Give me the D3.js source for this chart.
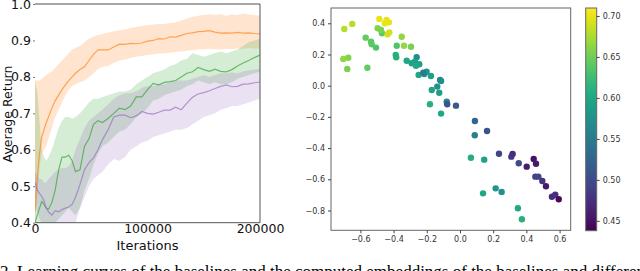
<!DOCTYPE html>
<html>
<head>
<meta charset="utf-8">
<script src="https://cdn.jsdelivr.net/npm/d3@7"></script>
<style>
  body { margin: 0; background: #fff; }
  svg { display: block; }
</style>
</head>
<body>
<div id="chart"></div>
<script>
// learning curves (left panel)
const iterations = [0, 2000, 4000, 6000, 8000, 10000, 12000, 15000, 18000, 21000, 24000, 27000, 30000, 33000, 36000,
  40000, 44000, 48000, 52000, 56000, 60000, 65000, 70000, 75000, 80000, 85000, 90000, 95000, 100000,
  105000, 110000, 115000, 120000, 125000, 130000, 135000, 140000, 145000, 150000, 155000, 160000,
  165000, 170000, 175000, 180000, 185000, 190000, 195000, 200000]

const orangeMean = [0.43, 0.52, 0.59, 0.635, 0.655, 0.675, 0.69, 0.715, 0.735, 0.75, 0.765, 0.778, 0.79, 0.80, 0.81,
  0.82, 0.828, 0.845, 0.862, 0.874, 0.874, 0.874, 0.882, 0.89, 0.889, 0.892, 0.891, 0.893, 0.898,
  0.90, 0.905, 0.904, 0.91, 0.909, 0.914, 0.919, 0.921, 0.924, 0.925, 0.927, 0.923,
  0.92, 0.921, 0.92, 0.922, 0.92, 0.921, 0.919, 0.918]
const orangeLo = [0.40, 0.47, 0.55, 0.59, 0.60, 0.61, 0.63, 0.66, 0.69, 0.71, 0.73, 0.75, 0.765, 0.775, 0.78,
  0.785, 0.79, 0.80, 0.81, 0.822, 0.828, 0.83, 0.838, 0.845, 0.848, 0.852, 0.855, 0.857, 0.86,
  0.862, 0.864, 0.865, 0.866, 0.868, 0.87, 0.872, 0.873, 0.875, 0.876, 0.877, 0.876,
  0.875, 0.877, 0.876, 0.878, 0.877, 0.879, 0.878, 0.878]
const orangeHi = [0.79, 0.79, 0.79, 0.795, 0.80, 0.805, 0.81, 0.815, 0.825, 0.835, 0.845, 0.855, 0.865, 0.875, 0.88,
  0.885, 0.895, 0.905, 0.91, 0.915, 0.918, 0.922, 0.925, 0.928, 0.93, 0.935, 0.937, 0.94, 0.942,
  0.944, 0.945, 0.945, 0.948, 0.95, 0.955, 0.96, 0.965, 0.968, 0.97, 0.972, 0.97,
  0.972, 0.968, 0.972, 0.97, 0.974, 0.972, 0.97, 0.968]

const greenMean = [0.40, 0.42, 0.44, 0.458, 0.45, 0.44, 0.437, 0.455, 0.49, 0.545, 0.58, 0.58, 0.585, 0.57, 0.54,
  0.545, 0.61, 0.63, 0.67, 0.68, 0.675, 0.686, 0.70, 0.714, 0.71, 0.72, 0.745, 0.745, 0.765,
  0.782, 0.778, 0.785, 0.787, 0.79, 0.80, 0.81, 0.814, 0.826, 0.82, 0.815, 0.821,
  0.815, 0.814, 0.82, 0.83, 0.838, 0.845, 0.853, 0.86]
const greenLo = [0.40, 0.40, 0.40, 0.40, 0.40, 0.40, 0.40, 0.40, 0.40, 0.41, 0.42, 0.43, 0.44, 0.43, 0.42,
  0.44, 0.49, 0.52, 0.56, 0.59, 0.61, 0.62, 0.635, 0.65, 0.655, 0.67, 0.69, 0.70, 0.715,
  0.735, 0.74, 0.75, 0.755, 0.76, 0.765, 0.775, 0.78, 0.79, 0.785, 0.78, 0.785,
  0.78, 0.78, 0.785, 0.795, 0.80, 0.805, 0.81, 0.815]
const greenHi = [0.785, 0.76, 0.68, 0.60, 0.58, 0.57, 0.58, 0.60, 0.63, 0.66, 0.68, 0.69, 0.69, 0.685, 0.69,
  0.70, 0.715, 0.73, 0.74, 0.74, 0.745, 0.75, 0.755, 0.76, 0.76, 0.765, 0.78, 0.79, 0.80,
  0.81, 0.815, 0.82, 0.83, 0.835, 0.845, 0.85, 0.865, 0.86, 0.855, 0.86, 0.865,
  0.87, 0.865, 0.87, 0.875, 0.885, 0.895, 0.90, 0.905]

const purpleMean = [0.512, 0.49, 0.48, 0.472, 0.46, 0.44, 0.43, 0.421, 0.433, 0.43, 0.436, 0.44, 0.443, 0.45, 0.47,
  0.505, 0.545, 0.565, 0.578, 0.60, 0.628, 0.655, 0.69, 0.695, 0.695, 0.688, 0.693, 0.705, 0.70,
  0.698, 0.703, 0.709, 0.709, 0.717, 0.71, 0.728, 0.744, 0.753, 0.757, 0.762, 0.768,
  0.774, 0.778, 0.773, 0.774, 0.78, 0.781, 0.784, 0.786]
const purpleLo = [0.45, 0.43, 0.41, 0.40, 0.40, 0.40, 0.40, 0.40, 0.40, 0.40, 0.40, 0.40, 0.40, 0.40, 0.40,
  0.44, 0.47, 0.50, 0.52, 0.53, 0.54, 0.56, 0.575, 0.57, 0.58, 0.60, 0.61, 0.62, 0.625,
  0.635, 0.64, 0.645, 0.65, 0.655, 0.655, 0.66, 0.67, 0.68, 0.69, 0.695, 0.70,
  0.71, 0.715, 0.72, 0.72, 0.725, 0.73, 0.735, 0.74]
const purpleHi = [0.54, 0.53, 0.52, 0.52, 0.51, 0.51, 0.52, 0.53, 0.54, 0.545, 0.55, 0.55, 0.555, 0.57, 0.60,
  0.63, 0.66, 0.68, 0.69, 0.70, 0.71, 0.725, 0.74, 0.75, 0.755, 0.755, 0.76, 0.77, 0.775,
  0.775, 0.78, 0.78, 0.785, 0.79, 0.79, 0.79, 0.795, 0.80, 0.805, 0.80, 0.805,
  0.81, 0.81, 0.812, 0.81, 0.815, 0.818, 0.82, 0.822]

const returnTicks = [0.4, 0.5, 0.6, 0.7, 0.8, 0.9, 1.0]
const iterTicks = [0, 100000, 200000]

// embedding scatter (right panel)
const embedX = [-0.486, -0.442, -0.428, -0.452, -0.649, -0.697, -0.496, -0.470, -0.426, -0.436, -0.568, -0.351,
  -0.536, -0.532, -0.506, -0.381, -0.337, -0.295, -0.703, -0.673, -0.679, -0.558, -0.387, -0.384,
  -0.321, -0.291, -0.261, -0.271, -0.245, -0.265, -0.201, -0.215, -0.249, -0.175, -0.221, -0.120,
  -0.114, -0.137, -0.170, -0.125, -0.080, -0.077, -0.024, -0.181, -0.114, 0.090, 0.163, 0.089,
  0.066, 0.146, 0.235, 0.317, 0.309, 0.354, 0.402, 0.444, 0.458, 0.454, 0.472, 0.496, 0.518,
  0.554, 0.574, 0.595, 0.215, 0.251, 0.139, 0.349, 0.373, -0.476]
const embedY = [0.428, 0.421, 0.406, 0.400, 0.396, 0.363, 0.368, 0.336, 0.342, 0.329, 0.308, 0.314,
  0.282, 0.265, 0.244, 0.256, 0.256, 0.250, 0.171, 0.179, 0.107, 0.115, 0.197, 0.182,
  0.160, 0.144, 0.182, 0.154, 0.137, 0.128, 0.090, 0.075, 0.069, 0.062, 0.083, 0.037,
  0.030, -0.006, -0.028, -0.045, -0.103, -0.119, -0.128, -0.119, -0.179, -0.226, -0.290, -0.318,
  -0.462, -0.474, -0.436, -0.438, -0.455, -0.497, -0.519, -0.470, -0.500, -0.583, -0.583, -0.611, -0.645,
  -0.712, -0.699, -0.728, -0.658, -0.681, -0.690, -0.786, -0.856, 0.357]
const embedC = [0.70, 0.70, 0.70, 0.70, 0.68, 0.68, 0.66, 0.64, 0.69, 0.69, 0.645, 0.665,
  0.64, 0.64, 0.635, 0.635, 0.665, 0.655, 0.665, 0.66, 0.655, 0.645, 0.61, 0.61,
  0.60, 0.595, 0.57, 0.59, 0.59, 0.60, 0.58, 0.585, 0.60, 0.59, 0.55, 0.565,
  0.57, 0.575, 0.595, 0.59, 0.56, 0.51, 0.515, 0.61, 0.60, 0.525, 0.51, 0.555,
  0.605, 0.595, 0.495, 0.47, 0.48, 0.50, 0.46, 0.45, 0.455, 0.49, 0.495, 0.48, 0.455,
  0.47, 0.475, 0.445, 0.58, 0.575, 0.60, 0.60, 0.61, 0.655]

const embedXTicks = [-0.6, -0.4, -0.2, 0.0, 0.2, 0.4, 0.6]
const embedYTicks = [-0.8, -0.6, -0.4, -0.2, 0.0, 0.2, 0.4]
const colorTicks = [0.45, 0.50, 0.55, 0.60, 0.65, 0.70]

const caption = '2.  Learning curves of the baselines and the computed embeddings of the baselines and different informed'

const W = 640, H = 271
const svg = d3.select('#chart').append('svg')
  .attr('width', W).attr('height', H)
  .style('font-family', '"DejaVu Sans", sans-serif')

svg.append('rect').attr('width', W).attr('height', H).attr('fill', '#fff')

// ---------- left panel ----------
const x = d3.scaleLinear().domain([0, 200000]).range([35, 260])
const y = d3.scaleLinear().domain([0.4, 1.0]).range([222.7, 4])

svg.append('clipPath').attr('id', 'clip-left')
  .append('rect')
  .attr('x', x(0)).attr('y', y(1.0))
  .attr('width', x(200000) - x(0)).attr('height', y(0.4) - y(1.0))

const series = [
  { mean: orangeMean, lo: orangeLo, hi: orangeHi, color: '#ff7f0e' },
  { mean: greenMean, lo: greenLo, hi: greenHi, color: '#2ca02c' },
  { mean: purpleMean, lo: purpleLo, hi: purpleHi, color: '#9467bd' }
]

const plotG = svg.append('g').attr('clip-path', 'url(#clip-left)')

const area = d3.area()
  .x((d, i) => x(iterations[i]))
  .y0(d => y(d[0]))
  .y1(d => y(d[1]))

const line = d3.line()
  .x((d, i) => x(iterations[i]))
  .y(d => y(d))

series.forEach(s => {
  plotG.append('path')
    .datum(s.lo.map((v, i) => [v, s.hi[i]]))
    .attr('d', area)
    .attr('fill', s.color)
    .attr('fill-opacity', 0.2)
})
series.forEach(s => {
  plotG.append('path')
    .datum(s.mean)
    .attr('d', line)
    .attr('fill', 'none')
    .attr('stroke', s.color)
    .attr('stroke-opacity', 0.65)
    .attr('stroke-width', 1.2)
})

// spines (top, right, bottom)
svg.append('line').attr('x1', x(0)).attr('x2', x(200000)).attr('y1', y(1.0)).attr('y2', y(1.0))
  .attr('stroke', '#8a8a8a').attr('stroke-width', 1.4)
svg.append('line').attr('x1', x(200000)).attr('x2', x(200000)).attr('y1', y(1.0)).attr('y2', y(0.4))
  .attr('stroke', '#555').attr('stroke-width', 1)
svg.append('line').attr('x1', x(0)).attr('x2', x(200000)).attr('y1', y(0.4)).attr('y2', y(0.4))
  .attr('stroke', '#555').attr('stroke-width', 1)

const yAxisL = svg.append('g')
  .attr('transform', `translate(${x(0)},0)`)
  .call(d3.axisLeft(y).tickValues(returnTicks).tickFormat(d3.format('.1f')).tickSize(2).tickPadding(2))
yAxisL.select('.domain').remove()
yAxisL.selectAll('.tick line').attr('stroke', '#777')
yAxisL.selectAll('text').attr('font-size', 12.5).attr('fill', '#111')
  .attr('font-family', '"DejaVu Sans", sans-serif')

const xAxisL = svg.append('g')
  .attr('transform', `translate(0,${y(0.4)})`)
  .call(d3.axisBottom(x).tickValues(iterTicks).tickFormat(d3.format('d')).tickSize(0).tickPadding(1))
xAxisL.select('.domain').remove()
xAxisL.selectAll('text').attr('font-size', 12.5).attr('fill', '#111')
  .attr('font-family', '"DejaVu Sans", sans-serif')

svg.append('text')
  .attr('x', x(100000)).attr('y', 249.5)
  .attr('text-anchor', 'middle')
  .attr('font-size', 13).attr('fill', '#111')
  .text('Iterations')

svg.append('text')
  .attr('transform', `translate(11.5,${114}) rotate(-90)`)
  .attr('text-anchor', 'middle')
  .attr('font-size', 12.5).attr('fill', '#111')
  .text('Average Return')

// ---------- right panel ----------
const ex = d3.scaleLinear().domain([-0.777, 0.667]).range([331, 570.7])
const ey = d3.scaleLinear().domain([-0.927, 0.498]).range([230.3, 8])
const color = d3.scaleSequential(d3.interpolateViridis).domain([0.438, 0.71])
const fmtMinus = d => d3.format('.1f')(d).replace('-', '\u2212')

svg.append('g')
  .selectAll('circle')
  .data(embedX.map((v, i) => ({ x: v, y: embedY[i], c: embedC[i] })))
  .join('circle')
  .attr('cx', d => ex(d.x))
  .attr('cy', d => ey(d.y))
  .attr('r', 3.2)
  .attr('fill', d => color(d.c))

svg.append('rect')
  .attr('x', ex.range()[0]).attr('y', ey.range()[1])
  .attr('width', ex.range()[1] - ex.range()[0])
  .attr('height', ey.range()[0] - ey.range()[1])
  .attr('fill', 'none').attr('stroke', '#666').attr('stroke-width', 1)

const exAxis = svg.append('g')
  .attr('transform', `translate(0,${ey.range()[0]})`)
  .call(d3.axisBottom(ex).tickValues(embedXTicks).tickFormat(fmtMinus).tickSize(3).tickPadding(3))
const eyAxis = svg.append('g')
  .attr('transform', `translate(${ex.range()[0]},0)`)
  .call(d3.axisLeft(ey).tickValues(embedYTicks).tickFormat(fmtMinus).tickSize(3).tickPadding(3))
;[exAxis, eyAxis].forEach(a => {
  a.select('.domain').remove()
  a.selectAll('.tick line').attr('stroke', '#444')
  a.selectAll('text').attr('font-size', 8).attr('fill', '#333')
    .attr('font-family', '"DejaVu Sans", sans-serif')
})

// colorbar
const cbX = 585.7, cbW = 11
const cy = d3.scaleLinear().domain([0.438, 0.7097]).range([230.7, 8])
const grad = svg.append('defs').append('linearGradient')
  .attr('id', 'viridis').attr('x1', 0).attr('y1', 1).attr('x2', 0).attr('y2', 0)
d3.range(0, 1.0001, 0.05).forEach(t => {
  grad.append('stop').attr('offset', t).attr('stop-color', d3.interpolateViridis(t))
})
svg.append('rect')
  .attr('x', cbX).attr('y', cy.range()[1])
  .attr('width', cbW).attr('height', cy.range()[0] - cy.range()[1])
  .attr('fill', 'url(#viridis)')
  .attr('stroke', '#666').attr('stroke-width', 1)

const cbAxis = svg.append('g')
  .attr('transform', `translate(${cbX + cbW},0)`)
  .call(d3.axisRight(cy).tickValues(colorTicks).tickFormat(d3.format('.2f')).tickSize(3).tickPadding(3))
cbAxis.select('.domain').remove()
cbAxis.selectAll('.tick line').attr('stroke', '#444')
cbAxis.selectAll('text').attr('font-size', 8).attr('fill', '#333')
  .attr('font-family', '"DejaVu Sans", sans-serif')

// caption, cut by the bottom edge
svg.append('text')
  .attr('x', 0).attr('y', 277)
  .attr('font-family', '"Liberation Serif", serif')
  .attr('font-size', 17).attr('fill', '#000')
  .text(caption)
</script>
</body>
</html>
